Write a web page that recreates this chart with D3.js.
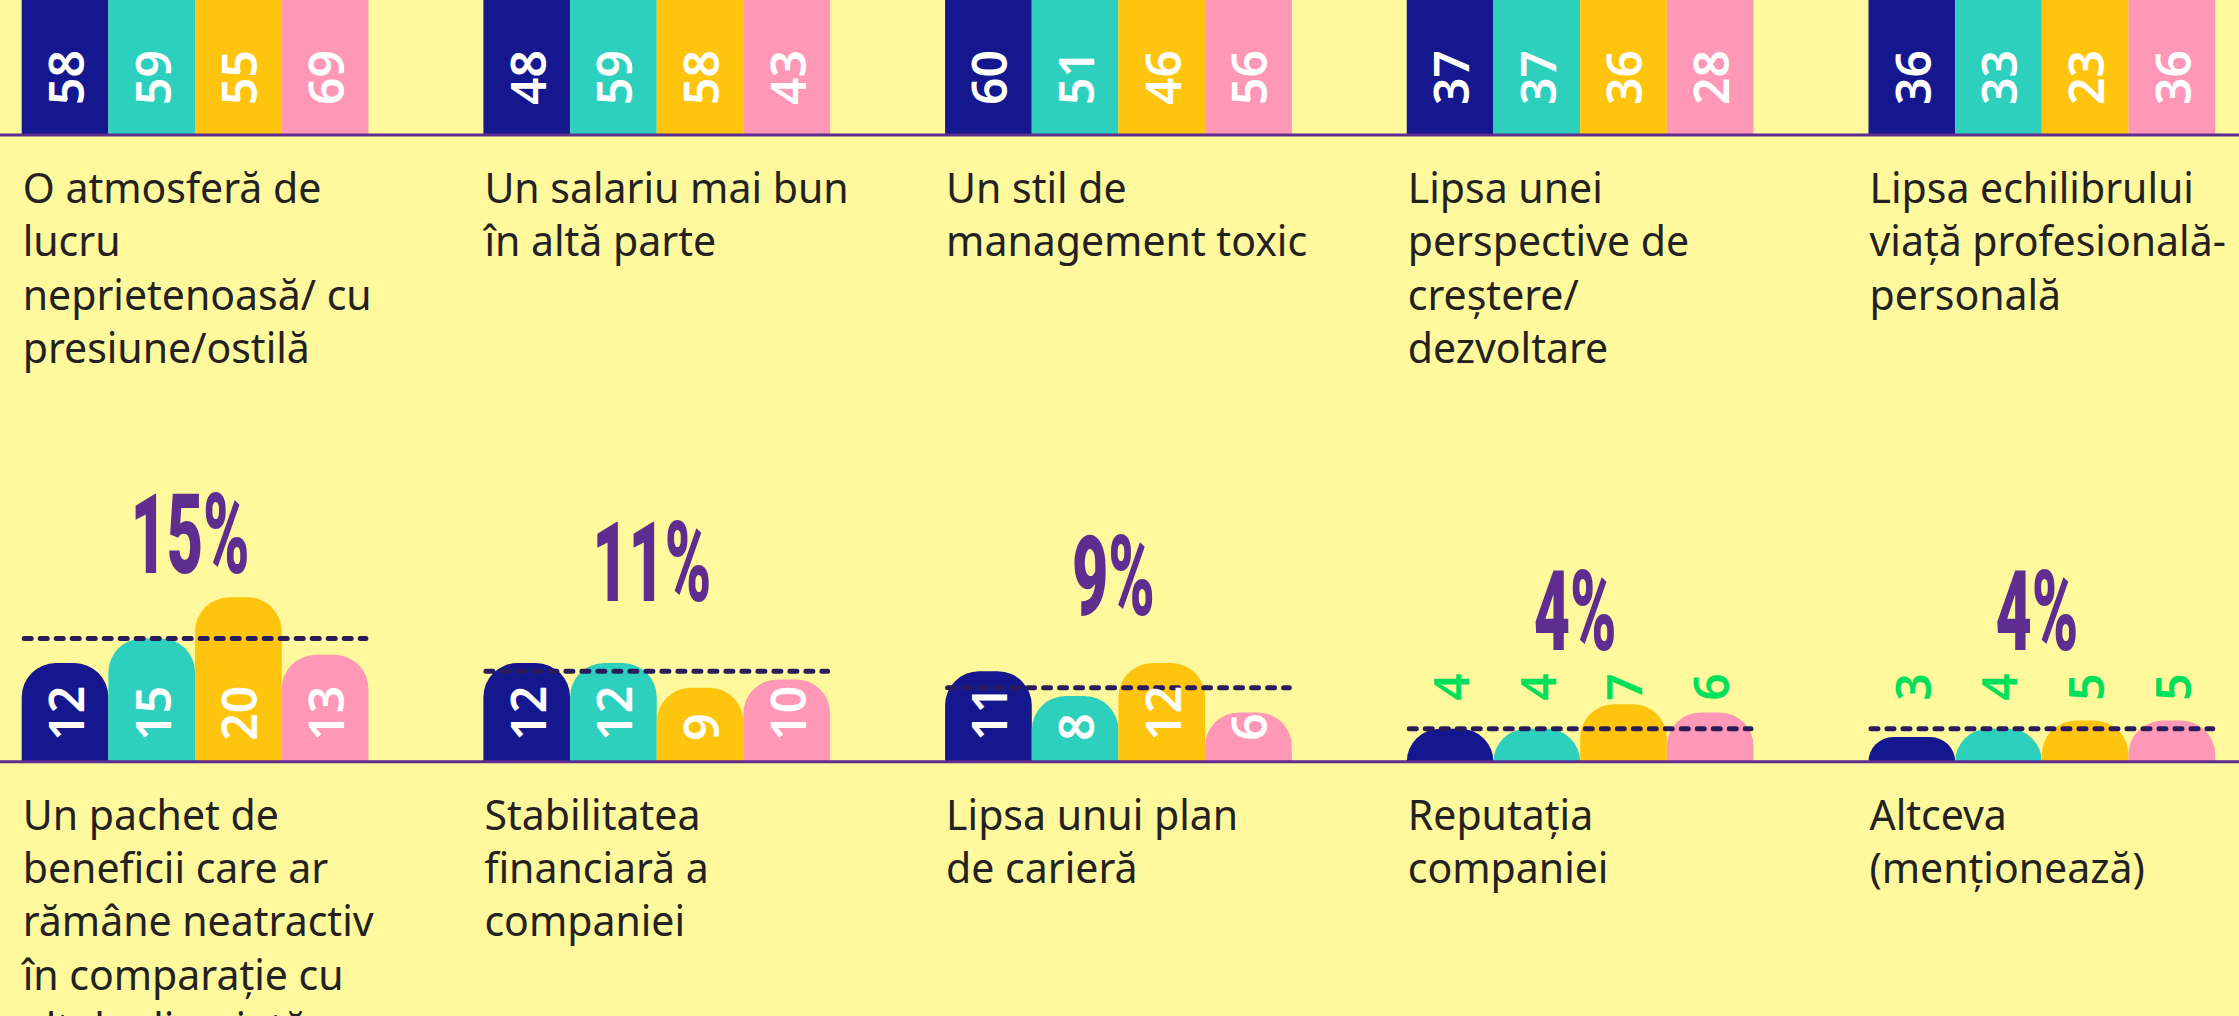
<!DOCTYPE html>
<html>
<head>
<meta charset="utf-8">
<script src="https://cdn.jsdelivr.net/npm/d3@7"></script>
<style>
  html, body { margin: 0; padding: 0; background: #FFF89C; overflow: hidden; }
  svg { display: block; }
</style>
</head>
<body>
<div id="chart"></div>
<script>
// series (4 groups of respondents) and their colours
const series = ['s1', 's2', 's3', 's4'];
const seriesColors = ['#15178F', '#2DD0BD', '#FFC50E', '#FF97B6'];

// top row: reasons
const topCategories = [
	'O atmosferă de\nlucru\nneprietenoasă/ cu\npresiune/ostilă',
	'Un salariu mai bun\nîn altă parte',
	'Un stil de\nmanagement toxic',
	'Lipsa unei\nperspective de\ncreștere/\ndezvoltare',
	'Lipsa echilibrului\nviață profesională-\npersonală'
];
const topValues = [
	[58, 59, 55, 69],
	[48, 59, 58, 43],
	[60, 51, 46, 56],
	[37, 37, 36, 28],
	[36, 33, 23, 36]
];

// bottom row: reasons
const bottomCategories = [
	'Un pachet de\nbeneficii care ar\nrămâne neatractiv\nîn comparație cu\naltele din piață',
	'Stabilitatea\nfinanciară a\ncompaniei',
	'Lipsa unui plan\nde carieră',
	'Reputația\ncompaniei',
	'Altceva\n(menționează)'
];
const bottomValues = [
	[12, 15, 20, 13],
	[12, 12, 9, 10],
	[11, 8, 12, 6],
	[4, 4, 7, 6],
	[3, 4, 5, 5]
];
const bottomTotals = [15, 11, 9, 4, 4];

const width = 2239, height = 1016;

const svg = d3.select('#chart').append('svg')
	.attr('width', width)
	.attr('height', height);

svg.append('rect')
	.attr('width', width)
	.attr('height', height)
	.attr('fill', '#FFF89C');

// scales shared by both rows
const xGroup = d3.scaleBand()
	.domain(d3.range(5))
	.range([21.7, 2215.2])
	.paddingInner(0.249)
	.paddingOuter(0);

const xBar = d3.scaleBand()
	.domain(series)
	.range([0, xGroup.bandwidth()])
	.padding(0);

// value -> bar height in px
const hScale = d3.scaleLinear().domain([0, 100]).range([0, 822]);

const color = d3.scaleOrdinal().domain(series).range(seriesColors);

// bar with rounded top corners
function barPath(x, y, w, h, r) {
	r = Math.min(r, h, w / 2);
	const p = d3.path();
	p.moveTo(x, y + h);
	p.lineTo(x, y + r);
	p.arcTo(x, y, x + r, y, r);
	p.lineTo(x + w - r, y);
	p.arcTo(x + w, y, x + w, y + r, r);
	p.lineTo(x + w, y + h);
	p.closePath();
	return p.toString();
}

function drawRow(cfg) {
	const g = svg.append('g');
	const base = cfg.baseline;

	cfg.values.forEach(function(vals, i) {
		const gx = xGroup(i);
		const group = g.append('g').attr('transform', 'translate(' + gx + ',0)');
		const data = vals.map(function(v, k) { return {key: series[k], value: v}; });
		const outside = d3.min(vals) < 5;

		// bars
		group.selectAll('path.bar')
			.data(data)
			.join('path')
			.attr('class', 'bar')
			.attr('d', function(d) {
				return barPath(xBar(d.key), base - hScale(d.value), xBar.bandwidth(), hScale(d.value), 34);
			})
			.attr('fill', function(d) { return color(d.key); });

		// dashed line for the overall percentage
		if (cfg.totals) {
			const ty = base - hScale(cfg.totals[i]);
			group.append('line')
				.attr('x1', 2.5)
				.attr('x2', xGroup.bandwidth() - 2.5)
				.attr('y1', ty)
				.attr('y2', ty)
				.attr('stroke', '#2A1B5A')
				.attr('stroke-width', 5)
				.attr('stroke-linecap', 'round')
				.attr('stroke-dasharray', '7 9');

			// big percentage above the group
			const py = base - hScale(cfg.totals[i]) * 0.85 - 84;
			group.append('text')
				.attr('transform', 'translate(' + (xGroup.bandwidth() / 2 - 5) + ',' + py + ') scale(0.56,1)')
				.attr('text-anchor', 'middle')
				.attr('font-family', 'Roboto, sans-serif')
				.attr('font-weight', 900)
				.attr('font-size', 112)
				.attr('fill', '#5E2D8F')
				.text(cfg.totals[i] + '%');
		}

		// value labels, rotated
		group.selectAll('text.val')
			.data(data)
			.join('text')
			.attr('class', 'val')
			.attr('transform', function(d) {
				const cx = xBar(d.key) + xBar.bandwidth() / 2 + 19;
				const cy = outside ? base - 61 : base - cfg.labelOffset;
				return 'translate(' + cx + ',' + cy + ') rotate(-90)';
			})
			.attr('font-family', '"Noto Sans", sans-serif')
			.attr('font-weight', 600)
			.attr('font-size', 48)
			.attr('fill', outside ? '#00E05A' : '#FFFFFF')
			.text(function(d) { return d.value; });

		// category label, wrapped by hand
		const lines = cfg.categories[i].split('\n');
		const label = group.append('text')
			.attr('x', 1)
			.attr('y', base + 68)
			.attr('font-family', '"Noto Sans", sans-serif')
			.attr('font-size', 41)
			.attr('fill', '#222222');
		lines.forEach(function(line, j) {
			label.append('tspan')
				.attr('x', 1)
				.attr('dy', j === 0 ? 0 : 53.3)
				.text(line);
		});
	});

	// baseline
	g.append('line')
		.attr('x1', 0)
		.attr('x2', width)
		.attr('y1', base)
		.attr('y2', base)
		.attr('stroke', '#5E2D8F')
		.attr('stroke-width', 3);
}

drawRow({values: topValues, categories: topCategories, baseline: 135, labelOffset: 30});
drawRow({values: bottomValues, categories: bottomCategories, totals: bottomTotals, baseline: 761.7, labelOffset: 21});
</script>
</body>
</html>
